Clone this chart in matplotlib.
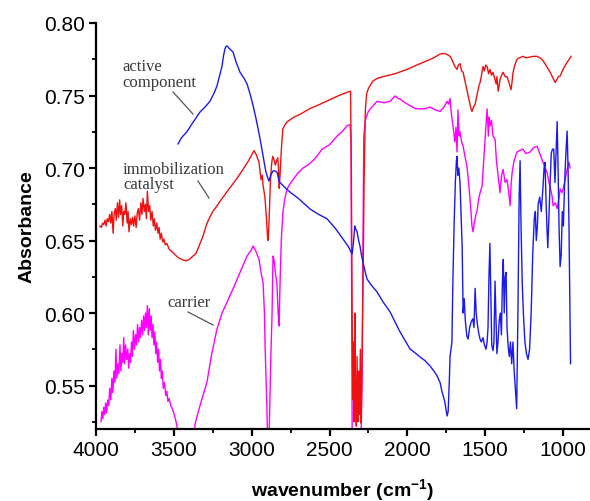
import matplotlib
matplotlib.use("Agg")
import matplotlib.pyplot as plt
from matplotlib.ticker import MultipleLocator

plt.rcParams["mathtext.fontset"] = "custom"
plt.rcParams["mathtext.rm"] = "Liberation Sans:bold"
plt.rcParams["mathtext.bf"] = "Liberation Sans:bold"
plt.rcParams["mathtext.default"] = "bf"

# ---------------- data ----------------
red_wn = [3975, 3965, 3958, 3950, 3942, 3935, 3928, 3920, 3912, 3905, 3898, 3890, 3884, 3876, 3870,
          3862, 3855, 3848, 3842, 3835, 3828, 3822, 3815, 3808, 3800, 3794, 3788, 3780, 3772, 3765,
          3758, 3750, 3742, 3735, 3728, 3720, 3712, 3705, 3698, 3690, 3683, 3676, 3670, 3662, 3655,
          3648, 3640, 3632, 3625, 3618, 3610, 3602, 3595, 3588, 3580, 3572, 3564, 3555, 3545, 3530,
          3500, 3470, 3440, 3422, 3400, 3380, 3358, 3335, 3313, 3290, 3274, 3250, 3229, 3190, 3146,
          3100, 3056, 3020, 2995, 2985, 2970, 2953, 2940, 2932, 2927, 2915, 2905, 2898, 2894, 2888,
          2880, 2872, 2865, 2857, 2848, 2840, 2833, 2828, 2823, 2818, 2810, 2800, 2785, 2770, 2730,
          2690, 2625, 2560, 2500, 2440, 2380, 2365, 2360, 2355, 2350, 2346, 2342, 2337, 2333, 2328,
          2323, 2318, 2313, 2308, 2302, 2297, 2292, 2285, 2278, 2270, 2262, 2250, 2221, 2190, 2156,
          2080, 2002, 1940, 1874, 1830, 1790, 1760, 1740, 1726, 1715, 1707, 1695, 1681, 1672, 1662,
          1652, 1642, 1630, 1620, 1610, 1600, 1592, 1585, 1575, 1565, 1550, 1540, 1533, 1524, 1514,
          1505, 1497, 1488, 1478, 1469, 1460, 1450, 1440, 1430, 1425, 1417, 1410, 1405, 1395, 1385,
          1372, 1360, 1345, 1334, 1327, 1321, 1310, 1296, 1280, 1257, 1240, 1212, 1190, 1167, 1148,
          1129, 1105, 1083, 1065, 1051, 1040, 1030, 1019, 1000, 985, 974, 960, 949]
red_abs = [0.660, 0.659, 0.662, 0.661, 0.664, 0.660, 0.665, 0.663, 0.668, 0.662, 0.670, 0.655, 0.668, 0.672, 0.664,
           0.676, 0.666, 0.678, 0.668, 0.674, 0.660, 0.670, 0.668, 0.676, 0.662, 0.670, 0.656, 0.665, 0.661, 0.666,
           0.660, 0.667, 0.659, 0.669, 0.672, 0.664, 0.676, 0.668, 0.679, 0.670, 0.675, 0.665, 0.684, 0.670, 0.674,
           0.664, 0.670, 0.660, 0.665, 0.657, 0.662, 0.655, 0.659, 0.651, 0.655, 0.649, 0.651, 0.647, 0.648, 0.644,
           0.641, 0.638, 0.6365, 0.636, 0.637, 0.639, 0.641, 0.647, 0.653, 0.661, 0.665, 0.670, 0.673, 0.679, 0.6855,
           0.692, 0.699, 0.705, 0.710, 0.712, 0.709, 0.704, 0.692, 0.695, 0.688, 0.680, 0.665, 0.652, 0.650, 0.665,
           0.690, 0.703, 0.708, 0.706, 0.702, 0.705, 0.707, 0.700, 0.686, 0.695, 0.712, 0.727, 0.730, 0.732, 0.735,
           0.737, 0.741, 0.744, 0.747, 0.750, 0.7525, 0.753, 0.700, 0.600, 0.540, 0.580, 0.525, 0.600, 0.540, 0.522,
           0.570, 0.525, 0.560, 0.530, 0.575, 0.524, 0.560, 0.620, 0.690, 0.740, 0.751, 0.755, 0.760, 0.762, 0.763,
           0.765, 0.768, 0.771, 0.774, 0.776, 0.7786, 0.779, 0.778, 0.777, 0.775, 0.773, 0.770, 0.768, 0.771, 0.772,
           0.767, 0.766, 0.760, 0.755, 0.750, 0.745, 0.741, 0.739, 0.742, 0.744, 0.752, 0.757, 0.759, 0.764, 0.770,
           0.767, 0.771, 0.770, 0.765, 0.768, 0.764, 0.766, 0.762, 0.758, 0.763, 0.753, 0.757, 0.761, 0.764, 0.766,
           0.763, 0.763, 0.758, 0.754, 0.760, 0.766, 0.771, 0.775, 0.776, 0.777, 0.776, 0.7766, 0.777, 0.777, 0.776,
           0.774, 0.770, 0.766, 0.762, 0.759, 0.761, 0.763, 0.7634, 0.768, 0.771, 0.773, 0.775, 0.777]

blue_wn = [3473, 3450, 3416, 3380, 3332, 3300, 3268, 3240, 3223, 3205, 3191, 3180, 3172, 3165, 3158,
           3140, 3120, 3100, 3075, 3050, 3030, 3010, 2991, 2970, 2946, 2925, 2910, 2901, 2889, 2878,
           2863, 2850, 2837, 2824, 2818, 2790, 2754, 2700, 2625, 2570, 2516, 2460, 2413, 2380, 2355,
           2345, 2338, 2332, 2323, 2313, 2304, 2295, 2285, 2270, 2259, 2230, 2195, 2156, 2111, 2080,
           2047, 2015, 1983, 1950, 1919, 1885, 1854, 1830, 1809, 1790, 1777, 1760, 1750, 1745, 1738,
           1730, 1726, 1720, 1714, 1708, 1700, 1692, 1685, 1681, 1676, 1670, 1662, 1655, 1648, 1642,
           1635, 1628, 1618, 1610, 1600, 1590, 1580, 1572, 1565, 1558, 1550, 1540, 1533, 1525, 1514,
           1505, 1495, 1488, 1482, 1476, 1470, 1465, 1458, 1450, 1444, 1437, 1432, 1425, 1418, 1410,
           1403, 1396, 1390, 1384, 1378, 1372, 1366, 1360, 1352, 1345, 1338, 1330, 1322, 1314, 1305,
           1298, 1290, 1282, 1276, 1270, 1262, 1255, 1245, 1235, 1225, 1215, 1205, 1195, 1185, 1178,
           1172, 1165, 1160, 1150, 1140, 1130, 1122, 1116, 1110, 1104, 1098, 1090, 1083, 1076, 1068,
           1060, 1052, 1045, 1038, 1032, 1026, 1019, 1012, 1005, 998, 990, 982, 974, 968, 962,
           956, 952]
blue_abs = [0.7166, 0.721, 0.725, 0.731, 0.7386, 0.742, 0.746, 0.752, 0.7566, 0.764, 0.770, 0.778, 0.782, 0.784, 0.7841,
            0.782, 0.780, 0.773, 0.766, 0.762, 0.758, 0.751, 0.743, 0.733, 0.720, 0.707, 0.698, 0.6945, 0.691, 0.695,
            0.698, 0.698, 0.697, 0.691, 0.690, 0.687, 0.6834, 0.679, 0.6717, 0.668, 0.665, 0.658, 0.651, 0.646, 0.6407,
            0.650, 0.660, 0.658, 0.656, 0.650, 0.646, 0.640, 0.635, 0.628, 0.6234, 0.619, 0.6145, 0.6076, 0.6007, 0.594,
            0.5869, 0.581, 0.5752, 0.5725, 0.5697, 0.567, 0.5634, 0.560, 0.5566, 0.552, 0.5455, 0.539, 0.532, 0.529, 0.532,
            0.555, 0.570, 0.575, 0.580, 0.620, 0.660, 0.690, 0.705, 0.708, 0.695, 0.700, 0.690, 0.667, 0.645, 0.600,
            0.610, 0.595, 0.584, 0.582, 0.590, 0.594, 0.596, 0.590, 0.617, 0.600, 0.592, 0.585, 0.582, 0.580, 0.583,
            0.578, 0.575, 0.580, 0.590, 0.625, 0.648, 0.620, 0.578, 0.574, 0.580, 0.622, 0.600, 0.572, 0.580, 0.595,
            0.600, 0.585, 0.620, 0.637, 0.600, 0.625, 0.628, 0.590, 0.576, 0.570, 0.580, 0.565, 0.580, 0.560, 0.545,
            0.534, 0.600, 0.680, 0.705, 0.660, 0.620, 0.600, 0.580, 0.572, 0.568, 0.575, 0.600, 0.640, 0.665, 0.670,
            0.650, 0.660, 0.675, 0.680, 0.670, 0.685, 0.700, 0.704, 0.680, 0.660, 0.645, 0.670, 0.690, 0.710, 0.713,
            0.713, 0.690, 0.710, 0.732, 0.700, 0.660, 0.632, 0.640, 0.670, 0.660, 0.690, 0.710, 0.7255, 0.700, 0.660,
            0.600, 0.565]

mag_wn = [3968, 3962, 3956, 3950, 3944, 3938, 3932, 3925, 3918, 3912, 3905, 3898, 3892, 3885, 3878,
          3872, 3866, 3860, 3853, 3846, 3840, 3834, 3828, 3822, 3816, 3810, 3803, 3796, 3790, 3784,
          3778, 3772, 3766, 3760, 3753, 3746, 3740, 3733, 3727, 3720, 3714, 3707, 3700, 3694, 3688,
          3682, 3676, 3670, 3664, 3658, 3652, 3646, 3640, 3634, 3628, 3622, 3616, 3610, 3604, 3598,
          3592, 3586, 3580, 3574, 3568, 3560, 3552, 3545, 3538, 3530, 3520, 3510, 3500, 3490, 3480,
          3470, 3450, 3420, 3390, 3370, 3364, 3330, 3287, 3260, 3223, 3190, 3158, 3120, 3075, 3030,
          3005, 2991, 2975, 2953, 2940, 2927, 2918, 2914, 2905, 2898, 2892, 2885, 2877, 2869, 2863,
          2857, 2848, 2838, 2830, 2824, 2818, 2810, 2799, 2785, 2773, 2760, 2734, 2700, 2670, 2640,
          2606, 2575, 2548, 2500, 2452, 2420, 2388, 2368, 2362, 2358, 2354, 2300, 2290, 2285, 2280,
          2270, 2255, 2240, 2220, 2195, 2150, 2111, 2079, 2060, 2047, 2015, 1983, 1950, 1919, 1885,
          1854, 1820, 1790, 1765, 1745, 1735, 1726, 1718, 1707, 1695, 1688, 1681, 1675, 1668, 1662,
          1652, 1642, 1630, 1617, 1605, 1595, 1585, 1578, 1570, 1560, 1553, 1540, 1530, 1520, 1510,
          1501, 1495, 1488, 1480, 1475, 1469, 1460, 1450, 1437, 1428, 1417, 1410, 1405, 1395, 1385,
          1372, 1360, 1350, 1340, 1333, 1327, 1315, 1296, 1280, 1257, 1240, 1212, 1190, 1167, 1150,
          1129, 1115, 1103, 1090, 1071, 1064, 1050, 1038, 1025, 1019, 1006, 990, 974, 962, 955]
mag_abs = [0.525, 0.532, 0.527, 0.535, 0.530, 0.538, 0.531, 0.540, 0.536, 0.548, 0.540, 0.555, 0.545, 0.560, 0.552,
           0.575, 0.555, 0.565, 0.558, 0.578, 0.560, 0.572, 0.566, 0.583, 0.565, 0.578, 0.568, 0.575, 0.562, 0.572,
           0.566, 0.580, 0.570, 0.588, 0.575, 0.585, 0.578, 0.592, 0.580, 0.590, 0.583, 0.595, 0.585, 0.598, 0.588,
           0.600, 0.590, 0.605, 0.585, 0.603, 0.588, 0.598, 0.583, 0.592, 0.578, 0.587, 0.572, 0.580, 0.566, 0.575,
           0.560, 0.568, 0.555, 0.560, 0.548, 0.552, 0.543, 0.546, 0.539, 0.541, 0.536, 0.534, 0.531, 0.527, 0.522,
           0.515, 0.505, 0.490, 0.500, 0.515, 0.5234, 0.537, 0.5524, 0.570, 0.589, 0.600, 0.6076, 0.6166, 0.628, 0.6393,
           0.643, 0.6462, 0.643, 0.637, 0.628, 0.621, 0.600, 0.577, 0.545, 0.515, 0.500, 0.530, 0.570, 0.600, 0.6393,
           0.637, 0.628, 0.620, 0.600, 0.591, 0.620, 0.650, 0.670, 0.680, 0.6855, 0.688, 0.692, 0.697, 0.700, 0.702,
           0.705, 0.709, 0.713, 0.716, 0.722, 0.725, 0.729, 0.730, 0.720, 0.600, 0.500, 0.500, 0.560, 0.650, 0.722,
           0.733, 0.738, 0.7407, 0.743, 0.746, 0.745, 0.746, 0.7497, 0.748, 0.7476, 0.745, 0.743, 0.741, 0.7407, 0.741,
           0.742, 0.740, 0.739, 0.742, 0.746, 0.744, 0.748, 0.738, 0.729, 0.718, 0.728, 0.711, 0.740, 0.722, 0.725,
           0.718, 0.715, 0.708, 0.701, 0.688, 0.675, 0.660, 0.656, 0.662, 0.668, 0.670, 0.680, 0.684, 0.6876, 0.705,
           0.720, 0.730, 0.7407, 0.722, 0.735, 0.729, 0.733, 0.722, 0.720, 0.705, 0.6945, 0.688, 0.683, 0.695, 0.699,
           0.690, 0.692, 0.684, 0.674, 0.690, 0.697, 0.705, 0.711, 0.712, 0.713, 0.710, 0.711, 0.714, 0.715, 0.710,
           0.704, 0.700, 0.697, 0.690, 0.681, 0.674, 0.676, 0.672, 0.680, 0.6855, 0.683, 0.690, 0.699, 0.704, 0.700]

x_ticks = [4000, 3500, 3000, 2500, 2000, 1500, 1000]
y_ticks = [0.55, 0.60, 0.65, 0.70, 0.75, 0.80]

labels = ["active\ncomponent", "immobilization\ncatalyst", "carrier"]
label_pos = [(3833, 0.7647), (3827, 0.6942), (3544, 0.6076)]
leader_lines = [((3505, 0.7524), (3377, 0.7372)),
                ((3345, 0.6910), (3274, 0.6793)),
                ((3409, 0.6007), (3248, 0.5917))]

# ---------------- figure ----------------
fig = plt.figure(figsize=(5.9, 5.02), dpi=100)
ax = fig.add_axes([96 / 590, 72 / 502, (590 - 96) / 590, (430 - 24) / 502])

ax.plot(mag_wn, mag_abs, color="#ff00ff", lw=1.0)
ax.plot(red_wn, red_abs, color="#ee1111", lw=1.0)
ax.plot(blue_wn, blue_abs, color="#1a1aee", lw=1.0)

ax.set_xlim(4000, 827)
ax.set_ylim(0.52, 0.80)
ax.set_xticks(x_ticks)
ax.set_yticks(y_ticks)
ax.set_xticklabels([str(t) for t in x_ticks])
ax.set_yticklabels([f"{t:.2f}" for t in y_ticks])
ax.xaxis.set_minor_locator(MultipleLocator(250))
ax.yaxis.set_minor_locator(MultipleLocator(0.025))

for s in ("top", "right"):
    ax.spines[s].set_visible(False)
for s in ("left", "bottom"):
    ax.spines[s].set_linewidth(1.6)

ax.tick_params(which="major", direction="out", length=5, width=1.6,
               labelsize=15, pad=3)
ax.tick_params(which="minor", direction="out", length=3, width=1.3)
for lab in ax.get_xticklabels() + ax.get_yticklabels():
    lab.set_family("Liberation Sans")

ax.set_ylabel("Absorbance", fontsize=14, fontweight="bold", family="Liberation Sans", labelpad=6)
ax.set_xlabel(r"wavenumber (cm$^{-1}$)", fontsize=14, fontweight="bold",
              family="Liberation Sans", labelpad=12)

for txt, (x, y) in zip(labels, label_pos):
    ax.text(x, y, txt, fontsize=12, family="Liberation Serif", color="#3a3a3a",
            ha="left", va="center", linespacing=0.95)
for (p0, p1) in leader_lines:
    ax.plot([p0[0], p1[0]], [p0[1], p1[1]], color="#555555", lw=0.9)

fig.savefig("out.png", dpi=100)
